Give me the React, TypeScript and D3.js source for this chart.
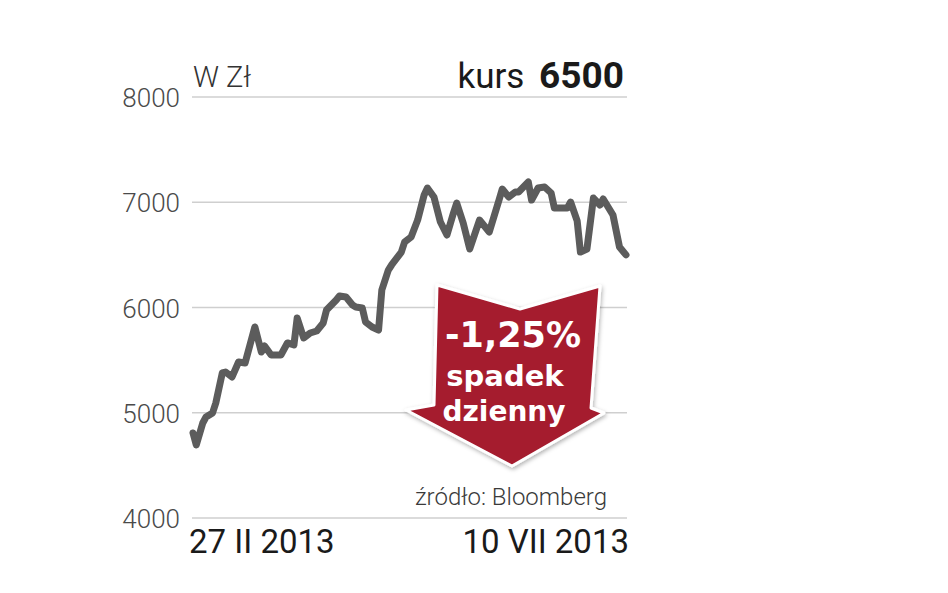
import React from "react";
import * as d3 from "d3";

const START_DATE = "2013-02-27";
const END_DATE = "2013-07-10";
const dayOffsets = [0, 1, 3, 4, 6, 7, 9, 10, 12, 14, 16, 19, 21, 22, 24, 27, 29, 31, 32, 34, 36, 38, 40, 41, 44, 45, 47, 49, 50, 52, 53, 55, 57, 58, 60, 61, 64, 65, 67, 69, 71, 72, 74, 76, 78, 80, 81, 83, 85, 88, 91, 94, 95, 97, 99, 100, 103, 104, 106, 108, 110, 111, 115, 116, 118, 119, 121, 123, 125, 126, 129, 131, 133];
const closes = [4808, 4694, 4903, 4960, 4998, 5093, 5378, 5387, 5340, 5482, 5473, 5815, 5577, 5634, 5549, 5549, 5663, 5644, 5900, 5710, 5758, 5777, 5853, 5976, 6071, 6109, 6100, 6024, 6005, 5995, 5862, 5815, 5786, 6166, 6356, 6404, 6527, 6622, 6670, 6831, 7069, 7135, 7050, 6812, 6689, 6898, 6993, 6803, 6556, 6831, 6717, 7021, 7126, 7050, 7097, 7097, 7192, 7021, 7135, 7145, 7088, 6945, 6945, 7002, 6822, 6527, 6556, 7040, 6974, 7031, 6879, 6575, 6500];
const yTicks = [4000, 5000, 6000, 7000, 8000];
const xLabels = ["27 II 2013", "10 VII 2013"];
const unitLabel = "W Zł";
const rateLabel = "kurs";
const rateValue = "6500";
const changeLines = ["-1,25%", "spadek", "dzienny"];
const sourceLabel = "źródło: Bloomberg";

const W = 948;
const H = 593;

export default function App() {
  const parse = d3.timeParse("%Y-%m-%d");
  const start = parse(START_DATE) as Date;
  const end = parse(END_DATE) as Date;
  const data = dayOffsets.map((d, i) => ({ date: d3.timeDay.offset(start, d), v: closes[i] }));

  const x = d3.scaleTime().domain([start, end]).range([193, 626]);
  const y = d3.scaleLinear().domain([4000, 8000]).range([518, 97]);
  const line = d3
    .line<{ date: Date; v: number }>()
    .x((d) => x(d.date))
    .y((d) => y(d.v))
    .curve(d3.curveLinear);

  const gridX0 = 192;
  const gridX1 = 627;

  // arrow annotation, anchored around its centre
  const ax = 514;
  const ay = 285;
  const arrowPts: [number, number][] = [
    [ax - 77, ay],
    [ax + 6, ay + 24],
    [ax + 86, ay + 1],
    [ax + 77, ay + 123],
    [ax + 90, ay + 128],
    [ax - 2, ay + 181],
    [ax - 108, ay + 125],
    [ax - 80, ay + 120],
  ];
  const arrowPath = "M" + arrowPts.map((p) => p.join(",")).join("L") + "Z";

  return (
    <svg
      width={W}
      height={H}
      style={{ position: "absolute", left: 0, top: 0, background: "#fff" }}
      fontFamily="Roboto, 'Noto Sans', sans-serif"
    >
      <defs>
        <filter id="sh" x="-20%" y="-20%" width="140%" height="140%">
          <feDropShadow dx="1" dy="2" stdDeviation="2" floodColor="#000" floodOpacity="0.3" />
        </filter>
      </defs>
      <rect width={W} height={H} fill="#fff" />
      {yTicks.map((t) => (
        <g key={t}>
          <line x1={gridX0} x2={gridX1} y1={y(t)} y2={y(t)} stroke="#cfcfcf" strokeWidth={1.6} />
          <text x={180} y={y(t) + 10} textAnchor="end" fontSize={26} fontWeight={300} fill="#4a4a4a">
            {t}
          </text>
        </g>
      ))}
      <text x={193} y={87} fontSize={29} fontWeight={300} fill="#333">
        {unitLabel}
      </text>
      <text x={624} y={88} textAnchor="end" fill="#1a1a1a">
        <tspan fontSize={35} fontWeight={400}>{rateLabel} </tspan>
        <tspan fontSize={37} fontWeight={700} dx={6}>{rateValue}</tspan>
      </text>

      <path
        d={line(data) as string}
        fill="none"
        stroke="#5c5c5c"
        strokeWidth={7}
        strokeLinejoin="round"
        strokeLinecap="round"
      />

      <g filter="url(#sh)">
        <path d={arrowPath} fill="#a51a2e" stroke="#fff" strokeWidth={3} strokeLinejoin="round" />
      </g>
      <text
        x={513}
        y={347}
        textAnchor="middle"
        fontFamily="'DejaVu Sans', sans-serif"
        fontWeight={700}
        fontSize={35}
        fill="#fff"
      >
        {changeLines[0]}
      </text>
      <text
        x={505}
        y={386}
        textAnchor="middle"
        fontFamily="'DejaVu Sans', sans-serif"
        fontWeight={700}
        fontSize={29}
        fill="#fff"
      >
        {changeLines[1]}
      </text>
      <text
        x={504}
        y={421}
        textAnchor="middle"
        fontFamily="'DejaVu Sans', sans-serif"
        fontWeight={700}
        fontSize={28}
        fill="#fff"
      >
        {changeLines[2]}
      </text>

      <text x={607} y={505} textAnchor="end" fontSize={24} fontWeight={300} fill="#3a3a3a">
        {sourceLabel}
      </text>
      <text x={189} y={553} fontSize={33} fontWeight={400} fill="#1a1a1a">
        {xLabels[0]}
      </text>
      <text x={629} y={553} textAnchor="end" fontSize={33} fontWeight={400} fill="#1a1a1a">
        {xLabels[1]}
      </text>
    </svg>
  );
}
